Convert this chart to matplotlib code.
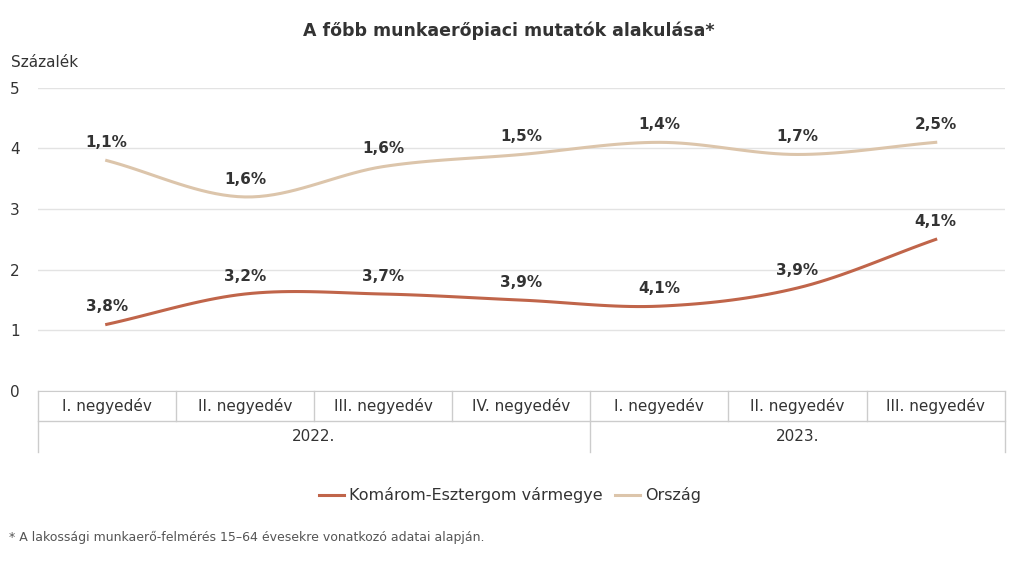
import numpy as np
import matplotlib
matplotlib.use("Agg")
import matplotlib.pyplot as plt

negyedevek = ["I. negyedév", "II. negyedév", "III. negyedév", "IV. negyedév",
              "I. negyedév", "II. negyedév", "III. negyedév"]
evek = ["2022.", "2023."]
ev_hossz = [4, 3]

komarom = [1.1, 1.6, 1.6, 1.5, 1.4, 1.7, 2.5]
orszag = [3.8, 3.2, 3.7, 3.9, 4.1, 3.9, 4.1]
komarom_cimke = ["3,8%", "3,2%", "3,7%", "3,9%", "4,1%", "3,9%", "4,1%"]
orszag_cimke = ["1,1%", "1,6%", "1,6%", "1,5%", "1,4%", "1,7%", "2,5%"]


def simit(y, k=20):
    # Catmull-Rom jellegu simitas a pontok kozott
    y = np.asarray(y, float)
    n = len(y)
    m = np.zeros(n)
    m[1:-1] = (y[2:] - y[:-2]) / 2
    m[0] = y[1] - y[0]
    m[-1] = y[-1] - y[-2]
    xs, ys = [], []
    for i in range(n - 1):
        t = np.linspace(0, 1, k)
        h00 = 2*t**3 - 3*t**2 + 1
        h10 = t**3 - 2*t**2 + t
        h01 = -2*t**3 + 3*t**2
        h11 = t**3 - t**2
        xs.append(i + t)
        ys.append(h00*y[i] + h10*m[i] + h01*y[i+1] + h11*m[i+1])
    return np.concatenate(xs), np.concatenate(ys)


fig = plt.figure(figsize=(10.17, 5.66), dpi=100)
ax = fig.add_axes([0.037, 0.309, 0.951, 0.536])
x = np.arange(len(negyedevek))

c1 = "#c0654a"
c2 = "#dcc5ab"
xs, ys = simit(orszag)
ax.plot(xs, ys, color=c2, lw=2.2)
xs, ys = simit(komarom)
ax.plot(xs, ys, color=c1, lw=2.2)

for i in x:
    ax.text(i, orszag[i] + 0.17, orszag_cimke[i], ha="center", va="bottom",
            fontsize=11, fontweight="bold", color="#333333")
    ax.text(i, komarom[i] + 0.17, komarom_cimke[i], ha="center", va="bottom",
            fontsize=11, fontweight="bold", color="#333333")

ax.set_xlim(-0.5, len(x) - 0.5)
ax.set_ylim(0, 5)
ax.set_yticks(range(6))
ax.tick_params(axis="y", length=0, labelsize=11, colors="#333333", pad=20)
for lab in ax.get_yticklabels():
    lab.set_horizontalalignment("left")
ax.set_xticks([])
ax.grid(axis="y", color="#e3e3e3", lw=1)
for s in ["top", "right", "left"]:
    ax.spines[s].set_visible(False)
ax.spines["bottom"].set_color("#cccccc")

# ket szintu kategoria tengely
tr = ax.get_xaxis_transform()
for i in range(len(x) + 1):
    hatar = i - 0.5
    lent = -0.2 if i in (0, ev_hossz[0], len(x)) else -0.1
    ax.plot([hatar, hatar], [0, lent], transform=tr, color="#cccccc", lw=1, clip_on=False)
ax.plot([-0.5, len(x) - 0.5], [-0.1, -0.1], transform=tr, color="#cccccc", lw=1, clip_on=False)
for i, nev in enumerate(negyedevek):
    ax.text(i, -0.05, nev, transform=tr, ha="center", va="center", fontsize=11, color="#333333")
kezd = 0
for ev, h in zip(evek, ev_hossz):
    ax.text(kezd + (h - 1) / 2, -0.15, ev, transform=tr, ha="center", va="center",
            fontsize=11, color="#333333")
    kezd += h

fig.text(0.5, 0.945, "A főbb munkaerőpiaci mutatók alakulása*", ha="center", va="center",
         fontsize=12.5, fontweight="bold", color="#333333")
fig.text(0.011, 0.89, "Százalék", ha="left", va="center", fontsize=11, color="#333333")

fig.lines.append(plt.Line2D([0.314, 0.338], [0.125, 0.125], transform=fig.transFigure, color=c1, lw=2.2))
fig.text(0.343, 0.125, "Komárom-Esztergom vármegye", va="center", fontsize=11.5, color="#333333")
fig.lines.append(plt.Line2D([0.605, 0.629], [0.125, 0.125], transform=fig.transFigure, color=c2, lw=2.2))
fig.text(0.634, 0.125, "Ország", va="center", fontsize=11.5, color="#333333")

fig.text(0.009, 0.051, "* A lakossági munkaerő-felmérés 15–64 évesekre vonatkozó adatai alapján.",
         va="center", fontsize=9, color="#555555")

fig.savefig("out.png", dpi=100, facecolor="white")
